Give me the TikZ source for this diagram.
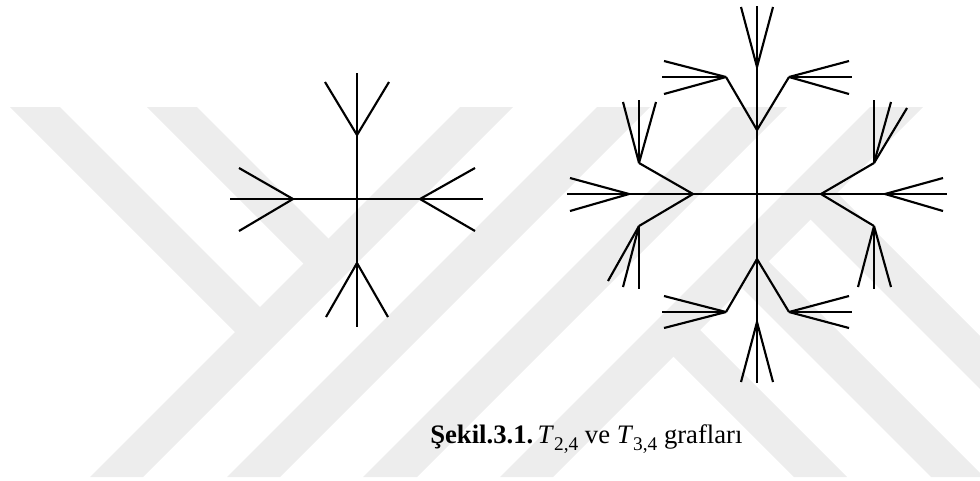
\documentclass[tikz,border=0pt]{standalone}
\usepackage{fontspec}
\setmainfont{Liberation Serif}
\definecolor{wmgray}{RGB}{237,237,237}
\newcommand{\capsub}[1]{\raisebox{-0.28em}{\fontsize{14.5pt}{15pt}\selectfont #1}}
\begin{document}
\begin{tikzpicture}[x=0.75pt,y=-0.75pt,
  edge/.style={line width=1.6pt,black},
  wmband/.style={fill=wmgray,draw=none}]
\useasboundingbox (0,0) rectangle (980,480);
% watermark
\begin{scope}
\clip (0,107) rectangle (980,477);
\fill[wmband] (10,107)--(60,107)--(271.5,318.5)--(246.5,343.5)--cycle;
\fill[wmband] (147,107)--(197,107)--(340,250)--(315,275)--cycle;
\fill[wmband] (460,107)--(513,107)--(143,477)--(90,477)--cycle;
\fill[wmband] (597,107)--(650,107)--(280,477)--(227,477)--cycle;
\fill[wmband] (733,107)--(787,107)--(417,477)--(363,477)--cycle;
\fill[wmband] (870,107)--(923,107)--(553,477)--(500,477)--cycle;
\fill[wmband] (660,343)--(686.5,316.5)--(847,477)--(794,477)--cycle;
\fill[wmband] (728.5,274.5)--(755,248)--(984,477)--(931,477)--cycle;
\fill[wmband] (797,206)--(823.5,179.5)--(1121,477)--(1068,477)--cycle;
\end{scope}
% left tree T_{2,4}
\coordinate (L0) at (357,199);
\coordinate (Lt) at (357,135); \coordinate (Lta) at (325,82); \coordinate (Ltb) at (389,82); \coordinate (Ltc) at (357,73);
\coordinate (Lb) at (357,263); \coordinate (Lba) at (326,317); \coordinate (Lbb) at (388,317); \coordinate (Lbc) at (357,327);
\coordinate (Ll) at (293,199); \coordinate (Lla) at (239,168); \coordinate (Llb) at (239,231); \coordinate (Llc) at (230,199);
\coordinate (Lr) at (420,199); \coordinate (Lra) at (475,168); \coordinate (Lrb) at (475,231); \coordinate (Lrc) at (483,199);
% right tree T_{3,4}
\coordinate (R0) at (757,194);
\coordinate (Ra) at (757,130); \coordinate (Rb) at (757,259);
\coordinate (Rl) at (693,194); \coordinate (Rr) at (821,194);
\coordinate (Ra1) at (757,67); \coordinate (Ra2) at (726,77); \coordinate (Ra3) at (789,77);
\coordinate (Ra1a) at (757,6); \coordinate (Ra1b) at (741,7); \coordinate (Ra1c) at (773,7);
\coordinate (Ra2a) at (662,77); \coordinate (Ra2b) at (664,61); \coordinate (Ra2c) at (664,94);
\coordinate (Ra3a) at (852,77); \coordinate (Ra3b) at (849,61); \coordinate (Ra3c) at (849,94);
\coordinate (Rb1) at (757,322); \coordinate (Rb2) at (726,312); \coordinate (Rb3) at (789,312);
\coordinate (Rb1a) at (757,383); \coordinate (Rb1b) at (741,382); \coordinate (Rb1c) at (773,382);
\coordinate (Rb2a) at (662,312); \coordinate (Rb2b) at (664,296); \coordinate (Rb2c) at (664,328);
\coordinate (Rb3a) at (852,312); \coordinate (Rb3b) at (849,296); \coordinate (Rb3c) at (849,328);
\coordinate (Rl1) at (629,194); \coordinate (Rl2) at (639,163); \coordinate (Rl3) at (639,226);
\coordinate (Rl1a) at (567,194); \coordinate (Rl1b) at (570,178); \coordinate (Rl1c) at (570,211);
\coordinate (Rl2a) at (639,100); \coordinate (Rl2b) at (623,102); \coordinate (Rl2c) at (656,102);
\coordinate (Rl3a) at (639,289); \coordinate (Rl3b) at (623,287); \coordinate (Rl3c) at (608,281);
\coordinate (Rr1) at (885,194); \coordinate (Rr2) at (874,163); \coordinate (Rr3) at (874,226);
\coordinate (Rr1a) at (947,194); \coordinate (Rr1b) at (943,178); \coordinate (Rr1c) at (943,211);
\coordinate (Rr2a) at (874,100); \coordinate (Rr2b) at (891,102); \coordinate (Rr2c) at (907,108);
\coordinate (Rr3a) at (874,289); \coordinate (Rr3b) at (858,287); \coordinate (Rr3c) at (891,287);
% internal edges
\foreach \p/\q in {L0/Lt,L0/Lb,L0/Ll,L0/Lr,
  R0/Ra,R0/Rb,R0/Rl,R0/Rr,
  Ra/Ra1,Ra/Ra2,Ra/Ra3,Rb/Rb1,Rb/Rb2,Rb/Rb3,
  Rl/Rl1,Rl/Rl2,Rl/Rl3,Rr/Rr1,Rr/Rr2,Rr/Rr3}
  \draw[edge] (\p) -- (\q);
% leaf edges
\foreach \n in {Lt,Lb,Ll,Lr,Ra1,Ra2,Ra3,Rb1,Rb2,Rb3,Rl1,Rl2,Rl3,Rr1,Rr2,Rr3}
  \foreach \s in {a,b,c}
    \draw[edge] (\n) -- (\n\s);
% caption
\node[anchor=base west,inner sep=0pt,font=\fontsize{20pt}{24pt}\selectfont] (cap) at (430,443)
  {\textbf{Şekil.3.1.}\,\textit{T}\capsub{2,4} ve \textit{T}\capsub{3,4} grafları};
\end{tikzpicture}
\end{document}
